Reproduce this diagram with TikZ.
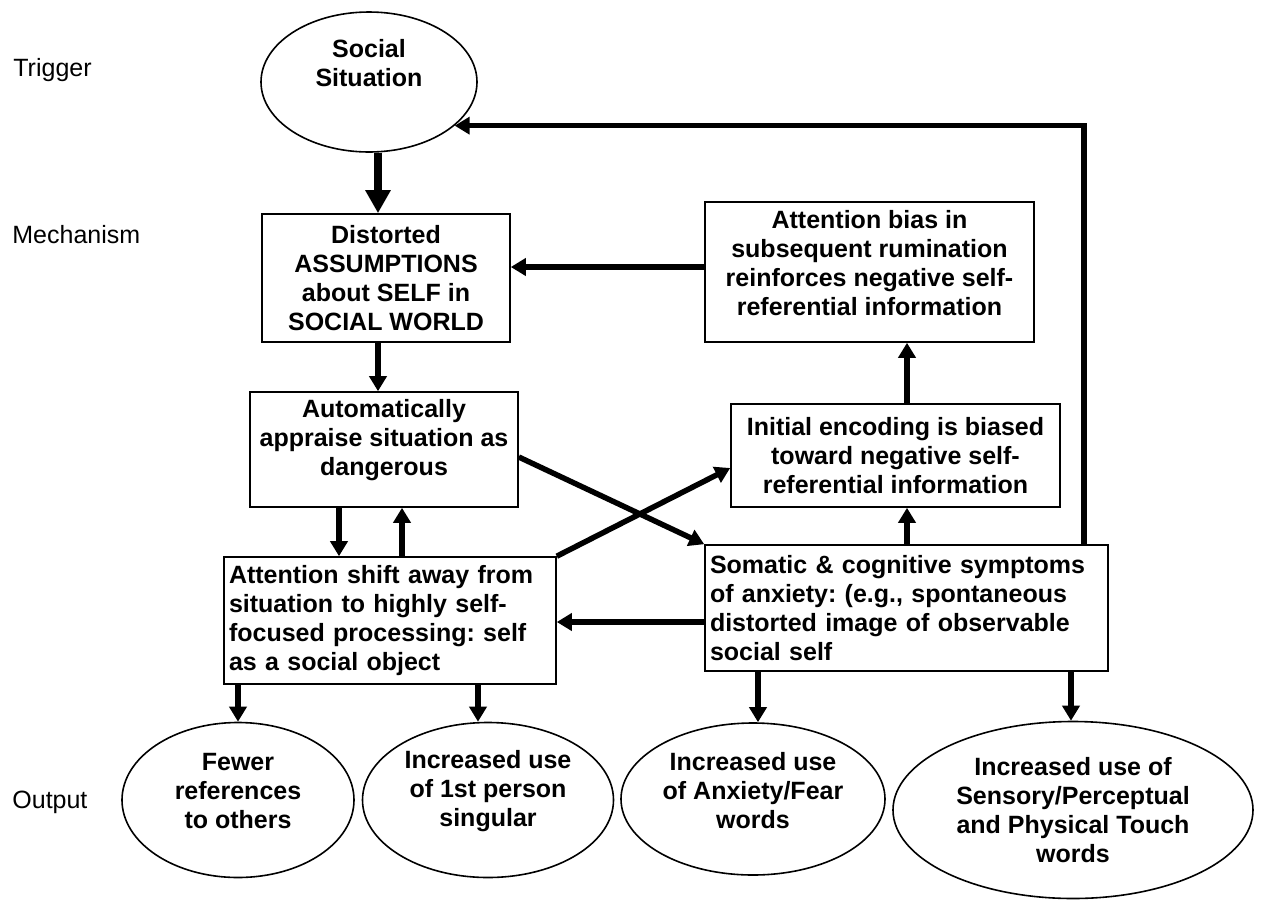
\documentclass[tikz,border=0pt]{standalone}
\usepackage{fontspec}
\setmainfont{Liberation Sans}
\usetikzlibrary{arrows.meta,shapes.geometric}
\frenchspacing
\begin{document}
\begin{tikzpicture}[x=0.5pt,y=-0.5pt,
  txt/.style={font=\fontsize{12.5}{14.5}\selectfont\bfseries},
  box/.style={txt,draw,line width=0.8pt,align=center,inner sep=2pt},
  lbox/.style={txt,draw,line width=0.8pt,align=left,inner xsep=2.5pt,inner ysep=2pt},
  oval/.style={txt,draw,ellipse,line width=0.8pt,align=center,inner sep=0pt},
  arr/.style={line width=2.75pt,line join=miter,-{Triangle[length=7.5pt,width=8.5pt]}},
  bigarr/.style={line width=4pt,-{Triangle[length=11.5pt,width=12pt]}},
  lab/.style={font=\fontsize{12.5}{14.5}\selectfont,anchor=west,inner sep=0pt}]
\fill[white] (0,0) rectangle (1265,901);
\useasboundingbox (0,0) rectangle (1265,901);

% row labels
\node[lab] (trig) at (13,70) {Trigger};
\node[lab] (mech) at (12,235) {Mechanism};
\node[lab] (outp) at (12,802) {Output};

% nodes
\node[oval,minimum width=108pt,minimum height=70pt] (social) at (369,82) {Social\\Situation\\\strut};
\node[box,minimum width=124pt,minimum height=64pt] (distorted) at (386,278)
  {Distorted\\ASSUMPTIONS\\about SELF in\\SOCIAL WORLD};
\node[box,minimum width=134pt,minimum height=57.5pt] (autom) at (384,449.5)
  {Automatically\\appraise situation as\\dangerous\\[-6.65pt]\strut};
\node[box,minimum width=164.5pt,minimum height=70pt] (bias) at (869.5,272)
  {Attention bias in\\subsequent rumination\\reinforces negative self-\\referential information\\[-9.85pt]\strut};
\node[box,minimum width=164.5pt,minimum height=51.5pt] (initial) at (895.5,455.5)
  {Initial encoding is biased\\toward negative self-\\referential information};
\node[lbox,text width=196.5pt,minimum height=63pt] (somatic) at (906.5,608)
  {Somatic \& cognitive symptoms\\of anxiety: (e.g., spontaneous\\distorted image of observable\\social self};
\node[lbox,text width=161pt,minimum height=63.5pt] (shift) at (390,620.5)
  {Attention shift away from\\situation to highly self-\\focused processing: self\\as a social object};

\node[oval,minimum width=116pt,minimum height=77.5pt] (e1) at (238,800) {Fewer\\references\\to others\\[-9.85pt]\strut};
\node[oval,minimum width=125.5pt,minimum height=77.5pt] (e2) at (488,800) {Increased use\\of 1st person\\singular\\[-7.15pt]\strut};
\node[oval,minimum width=132pt,minimum height=76pt] (e3) at (753,799) {Increased use\\of Anxiety/Fear\\words\\[-9.85pt]\strut};
\node[oval,minimum width=180pt,minimum height=88.5pt] (e4) at (1073,810) {Increased use of\\Sensory/Perceptual\\and Physical Touch\\words};

% helper coordinates
\coordinate (c238) at (238,0);
\coordinate (c339) at (339,0);
\coordinate (c378) at (378,0);
\coordinate (c402) at (402,0);
\coordinate (c478) at (478,0);
\coordinate (c758) at (758,0);
\coordinate (c907) at (907,0);
\coordinate (c1071) at (1071,0);
\coordinate (c1084) at (1084,0);
\coordinate (r267) at (0,267);
\coordinate (r457) at (0,457);
\coordinate (r468) at (0,468);
\coordinate (r622) at (0,622);

% connectors
\draw[bigarr] (social.south -| c378) -- (distorted.north -| c378);
\draw[arr] (distorted.south -| c378) -- (autom.north -| c378);
\draw[arr] (autom.south -| c339) -- (shift.north -| c339);
\draw[arr] (shift.north -| c402) -- (autom.south -| c402);
\draw[arr] (bias.west |- r267) -- (distorted.east |- r267);
\draw[arr] (initial.north -| c907) -- (bias.south -| c907);
\draw[arr] (somatic.north -| c907) -- (initial.south -| c907);
\draw[arr] (somatic.west |- r622) -- (shift.east |- r622);
\draw[arr] (autom.east |- r457) -- (somatic.north west);
\draw[arr] (shift.north east) -- (initial.west |- r468);
\draw[arr] (somatic.north -| c1084) |- (social.-27.6);
\draw[arr] (shift.south -| c238) -- (e1.north -| c238);
\draw[arr] (shift.south -| c478) -- (e2.north -| c478);
\draw[arr] (somatic.south -| c758) -- (e3.north -| c758);
\draw[arr] (somatic.south -| c1071) -- (e4.north -| c1071);
\end{tikzpicture}
\end{document}
